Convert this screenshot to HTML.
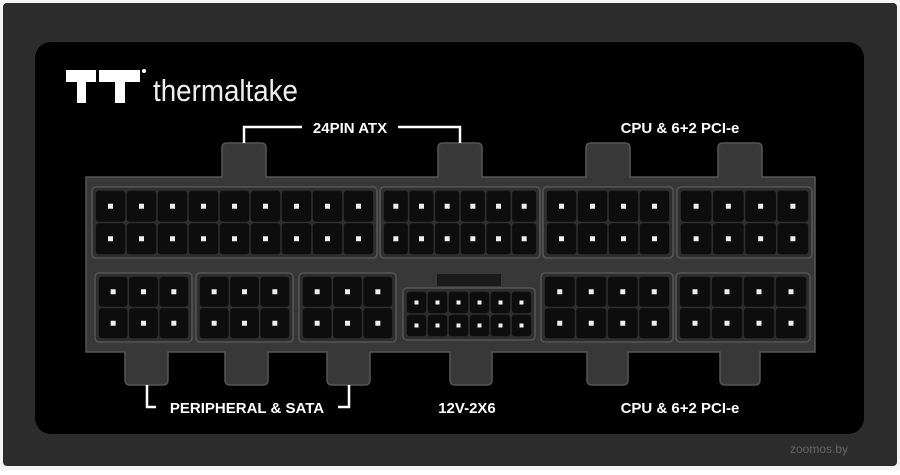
<!DOCTYPE html><html><head><style>
body{margin:0;width:900px;height:470px;overflow:hidden;background:#fff}
text{font-family:"Liberation Sans",sans-serif}
</style></head><body>
<svg id="s" width="900" height="470" viewBox="0 0 900 470" xmlns="http://www.w3.org/2000/svg">
<rect x="0" y="0" width="900" height="470" fill="#f4f4f4"/>
<rect x="3" y="3" width="894" height="463" rx="4" fill="#2c2c2c"/>
<rect x="35" y="42" width="829" height="392" rx="16" fill="#000"/>
<g id="h" fill="#383838" stroke="#555" stroke-width="1.5">
<path d="M86 177 H222 V148 Q222 143 227 143 H261 Q266 143 266 148 V177 H438 V148 Q438 143 443 143 H477 Q482 143 482 148 V177 H586 V148 Q586 143 591 143 H625 Q630 143 630 148 V177 H718 V148 Q718 143 723 143 H757 Q762 143 762 148 V177 H815 V352 H760 V380 Q760 385 755 385 H725 Q720 385 720 380 V352 H628 V380 Q628 385 623 385 H592 Q587 385 587 380 V352 H492 V380 Q492 385 487 385 H455 Q450 385 450 380 V352 H370 V380 Q370 385 365 385 H332 Q327 385 327 380 V352 H268 V380 Q268 385 263 385 H230 Q225 385 225 380 V352 H168 V380 Q168 385 163 385 H130 Q125 385 125 380 V352 H86 Z"/>
</g>
<g id="c"></g>
<g fill="#fff" font-weight="bold" font-size="15" text-anchor="middle">
<text x="350" y="133">24PIN ATX</text>
<text x="680" y="133">CPU &amp; 6+2 PCI-e</text>
<text x="247" y="413">PERIPHERAL &amp; SATA</text>
<text x="467" y="413">12V-2X6</text>
<text x="680" y="413">CPU &amp; 6+2 PCI-e</text>
</g>
<g stroke="#fff" stroke-width="2.5" fill="none">
<path d="M244 143 V127 H302"/><path d="M398 127 H460 V143"/>
<path d="M147 385 V407 H156"/><path d="M338 407 H349 V385"/>
</g>
<g fill="#fff">
<path d="M66 70 H96 V82 H86 V103 H77 V82 H66 Z"/>
<path d="M99 70 H140 V82 H125 V103 H115 V82 H99 Z"/>
<circle cx="144" cy="71" r="2"/>
</g>
<text x="153" y="101" fill="#eee" font-size="31" font-weight="300" textLength="145" lengthAdjust="spacingAndGlyphs">thermaltake</text>
<text x="790" y="453" fill="#666" font-size="12">zoomos.by</text>
</svg>
<script>
var g=document.getElementById('c'),NS='http://www.w3.org/2000/svg';
function r(x,y,w,h,f,s,rx){var e=document.createElementNS(NS,'rect');e.setAttribute('x',x);e.setAttribute('y',y);e.setAttribute('width',w);e.setAttribute('height',h);e.setAttribute('fill',f);if(s){e.setAttribute('stroke',s);e.setAttribute('stroke-width',1.5)}if(rx)e.setAttribute('rx',rx);g.appendChild(e)}
function grp(x0,x1,y0,y1,cols,dot){
 r(x0,y0,x1-x0,y1-y0,'#2e2e2e','#555',4);
 var pad=3,w=(x1-x0-2*pad)/cols,h=(y1-y0-2*pad)/2;
 for(var i=0;i<cols;i++)for(var j=0;j<2;j++){
  var x=x0+pad+i*w,y=y0+pad+j*h;
  r(x+0.8,y+0.8,w-1.6,h-1.6,'#0d0d0d',null,3);
  r(x+w/2-dot/2,y+h/2-dot/2,dot,dot,'#eee');
 }}
grp(92,377,187,258,9,5);
grp(380,540,187,258,6,5);
grp(543,673,187,258,4,5);
grp(677,812,187,258,4,5);
grp(95,192,273,342,3,5);
grp(196,293,273,342,3,5);
grp(299,396,273,342,3,5);
grp(403,535,288,340,6,4);
r(437,274,64,12,'#1a1a1a');
grp(541,673,273,342,4,5);
grp(676,810,273,342,4,5);
</script>
</body></html>
